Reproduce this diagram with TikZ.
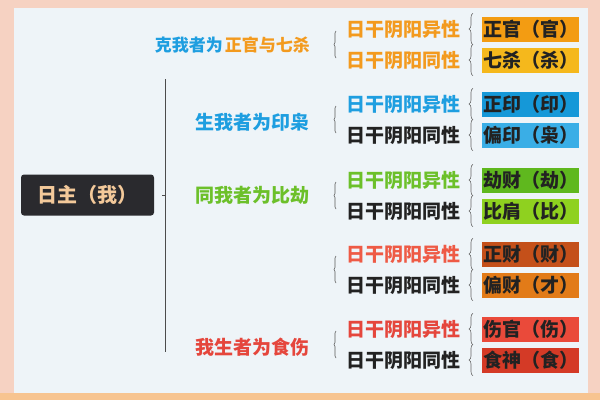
\documentclass[tikz,border=0pt]{standalone}
\usepackage{fontspec}
\newfontfamily\cjk{Noto Sans CJK SC}
\usetikzlibrary{decorations.pathreplacing}

\definecolor{outerbg}{HTML}{F6D2C2}
\definecolor{outerlow}{HTML}{F7C490}
\definecolor{panelbg}{HTML}{EEF4F8}
\definecolor{rootbg}{HTML}{2A2A2E}
\definecolor{rootfg}{HTML}{F3C99A}
\definecolor{txtdark}{HTML}{222222}
\definecolor{cblue}{HTML}{1E9EE0}
\definecolor{corange}{HTML}{F39A1E}
\definecolor{cgreen}{HTML}{6CC02A}
\definecolor{cred}{HTML}{E5463C}
\definecolor{csalmon}{HTML}{EE5A45}
\definecolor{fguan}{HTML}{F39C12}
\definecolor{fsha}{HTML}{F5B81C}
\definecolor{fyin}{HTML}{1598D8}
\definecolor{fxiao}{HTML}{3AAEE6}
\definecolor{fjie}{HTML}{5FB81E}
\definecolor{fbi}{HTML}{8FD11F}
\definecolor{fcai}{HTML}{C4501A}
\definecolor{fpcai}{HTML}{E27B18}
\definecolor{fshang}{HTML}{EA4A3A}
\definecolor{fshi}{HTML}{D43A26}

\tikzset{
  rootbox/.style={fill=rootbg, rounded corners=3pt, text=rootfg, inner sep=0pt,
    minimum width=133, minimum height=41, font=\cjk\bfseries\fontsize{20}{20}\selectfont},
  grp/.style={anchor=east, inner sep=0pt, font=\cjk\bfseries\fontsize{19}{19}\selectfont},
  sub/.style={anchor=west, inner sep=0pt, font=\cjk\bfseries\fontsize{19}{19}\selectfont},
  res/.style={anchor=west, inner sep=0pt, minimum width=97, minimum height=25,
    text=txtdark, font=\cjk\bfseries\fontsize{19}{19}\selectfont},
  rowbrace/.style={draw=gray!80!black, line width=0.6pt, decorate,
    decoration={brace, amplitude=4pt}},
  grpbrace/.style={draw=gray!70!black, line width=0.6pt, decorate,
    decoration={brace, amplitude=2pt}},
}

\begin{document}
\begin{tikzpicture}[x=1pt, y=-1pt]
\useasboundingbox (0,0) rectangle (600,400);
% background
\fill [outerbg] (0,0) rectangle (600,400);
\fill [outerlow] (0,393) rectangle (600,400);
\fill [panelbg] (14,8) rectangle (588,393);

% day master
\node [rootbox] (root) at (87.5,195) {日主（我）};
\coordinate (ttop) at (165,79);
\coordinate (tbot) at (165,352);
\coordinate (tmid) at (165,195);
\draw [gray!60!black, line width=0.8pt] (ttop) -- (tbot);
\draw [gray!60!black, line width=0.8pt] ([xshift=-3pt]tmid) -- (tmid);

% group labels
\node [grp, font=\cjk\bfseries\fontsize{17}{17}\selectfont] (g1) at (310,45)
  {\textcolor{cblue}{克我者为}\hspace{2pt}\textcolor{corange}{正官与七杀}};
\node [grp, text=cblue] (g2) at (310,122) {生我者为印枭};
\node [grp, text=cgreen] (g3) at (310,195) {同我者为比劫};
\node [grp, text=cred] (g5) at (310,347) {我生者为食伤};

% yin-yang rows
\node [sub, text=corange] (s11) at (346,29) {日干阴阳异性};
\node [sub, text=corange] (s12) at (346,60) {日干阴阳同性};
\node [sub, text=cblue] (s21) at (346,104) {日干阴阳异性};
\node [sub, text=txtdark] (s22) at (346,135) {日干阴阳同性};
\node [sub, text=cgreen] (s31) at (346,180) {日干阴阳异性};
\node [sub, text=txtdark] (s32) at (346,211) {日干阴阳同性};
\node [sub, text=csalmon] (s41) at (346,254) {日干阴阳异性};
\node [sub, text=txtdark] (s42) at (346,285) {日干阴阳同性};
\node [sub, text=cred] (s51) at (346,329) {日干阴阳异性};
\node [sub, text=txtdark] (s52) at (346,360) {日干阴阳同性};

% ten gods
\node [res, fill=fguan] (r11) at (482,29) {正官（官）};
\node [res, fill=fsha] (r12) at (482,60) {七杀（杀）};
\node [res, fill=fyin] (r21) at (482,104) {正印（印）};
\node [res, fill=fxiao] (r22) at (482,135) {偏印（枭）};
\node [res, fill=fjie] (r31) at (482,180) {劫财（劫）};
\node [res, fill=fbi] (r32) at (482,211) {比肩（比）};
\node [res, fill=fcai] (r41) at (482,254) {正财（财）};
\node [res, fill=fpcai] (r42) at (482,285) {偏财（才）};
\node [res, fill=fshang] (r51) at (482,329) {伤官（伤）};
\node [res, fill=fshi] (r52) at (482,360) {食神（食）};

% braces before each ten god
\foreach \r in {r11,r12,r21,r22,r31,r32,r41,r42,r51,r52} {
  \draw [rowbrace] ([xshift=-9pt, yshift=-3pt]\r.south west) -- ([xshift=-9pt, yshift=3pt]\r.north west);
}

% braces before each group of rows
\foreach \a/\b in {s11/s12, s21/s22, s31/s32, s41/s42, s51/s52} {
  \draw [grpbrace] ([xshift=-10pt, yshift=2pt]\b.west) -- ([xshift=-10pt, yshift=-2pt]\a.west);
}
\end{tikzpicture}
\end{document}
